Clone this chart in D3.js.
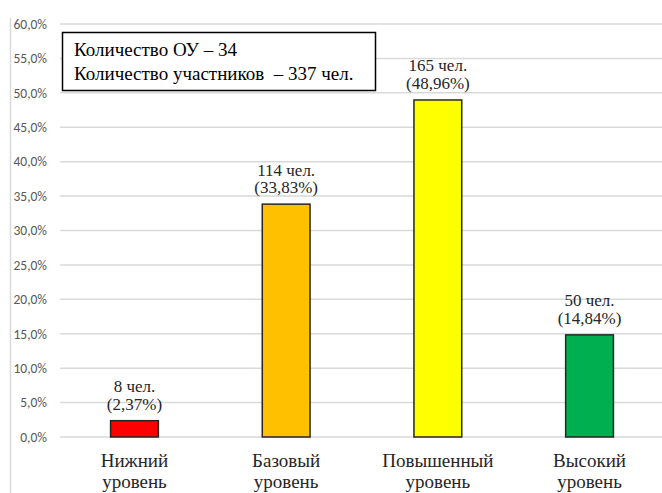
<!DOCTYPE html>
<html><head><meta charset="utf-8">
<script src="https://cdn.jsdelivr.net/npm/d3@7"></script>
<style>
body{margin:0;background:#fff}svg{display:block}
</style>
</head><body>
<svg id="c" width="662" height="493"></svg>
<script>
const categories = [["Нижний","уровень"],["Базовый","уровень"],["Повышенный","уровень"],["Высокий","уровень"]];
const values = [2.37, 33.83, 48.96, 14.84];
const counts = [8, 114, 165, 50];
const colors = ["#ff0000","#ffc000","#ffff00","#00b050"];
const ticks = [0,5,10,15,20,25,30,35,40,45,50,55,60];
const infoLines = ["Количество ОУ – 34","Количество участников  – 337 чел."];

const svg = d3.select("#c");
const x = d3.scaleBand().domain(d3.range(categories.length)).range([59, 665]).paddingInner(0.685).paddingOuter(0.34);
const y = d3.scaleLinear().domain([0,60]).range([437, 24]);

// left frame line
svg.append("line").attr("x1",10.5).attr("x2",10.5).attr("y1",18).attr("y2",493).attr("stroke","#d9d9d9").attr("stroke-width",1.5);

// grid
svg.append("g").selectAll("line").data(ticks).join("line")
  .attr("x1",60).attr("x2",662).attr("y1",d=>y(d)).attr("y2",d=>y(d))
  .attr("stroke","#d9d9d9").attr("stroke-width",1.5);

// y axis labels
const yAxis = d3.axisLeft(y).tickValues(ticks).tickSize(0).tickPadding(0)
  .tickFormat(d=>d.toFixed(1).replace(".",",")+"%");
const ga = svg.append("g").attr("transform","translate(47,0)").call(yAxis);
ga.select(".domain").remove();
ga.selectAll("text").style("font-family","Carlito").style("font-size","13.5px").style("fill","#595959");

// bars
svg.append("g").selectAll("rect").data(values).join("rect")
  .attr("x",(d,i)=>x(i)).attr("width",x.bandwidth())
  .attr("y",d=>y(d)).attr("height",d=>y(0)-y(d))
  .attr("fill",(d,i)=>colors[i]).attr("stroke","#262626").attr("stroke-width",1.5);

// value labels
const lab = svg.append("g").selectAll("text").data(values).join("text")
  .style("font-family","Liberation Serif").style("font-size","17px")
  .attr("text-anchor","middle").attr("fill","#262626")
  .attr("x",(d,i)=>x(i)+x.bandwidth()/2).attr("y",d=>y(d)-28.5);
lab.append("tspan").attr("x",(d,i)=>x(i)+x.bandwidth()/2).text((d,i)=>counts[i]+" чел.");
lab.append("tspan").attr("x",(d,i)=>x(i)+x.bandwidth()/2).attr("dy",17.5).text(d=>"("+d.toFixed(2).replace(".",",")+"%)");

// category labels
const cl = svg.append("g").selectAll("text").data(categories).join("text")
  .style("font-family","Liberation Serif").style("font-size","19px")
  .attr("text-anchor","middle").attr("fill","#262626")
  .attr("y",467);
cl.append("tspan").attr("x",(d,i)=>x(i)+x.bandwidth()/2).text(d=>d[0]);
cl.append("tspan").attr("x",(d,i)=>x(i)+x.bandwidth()/2).attr("dy",21).text(d=>d[1]);

// info box
svg.append("rect").attr("x",62.5).attr("y",32.5).attr("width",313).attr("height",58)
  .attr("fill","#fff").attr("stroke","#000").attr("stroke-width",1.5);
svg.append("g").selectAll("text").data(infoLines).join("text")
  .style("font-family","Liberation Serif").style("font-size","19px")
  .attr("x",74).attr("y",(d,i)=>56+i*23.5).attr("fill","#000")
  .attr("xml:space","preserve").style("white-space","pre").text(d=>d);
</script>
</body></html>
